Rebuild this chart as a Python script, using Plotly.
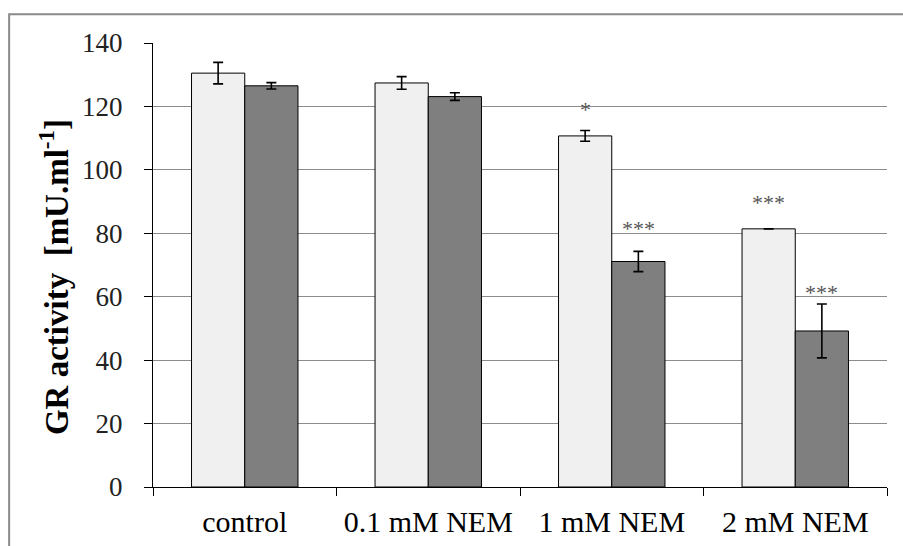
import plotly.graph_objects as go

categories = ["control", "0.1 mM NEM", "1 mM NEM", "2 mM NEM"]
light_values = [130.5, 127.4, 110.7, 81.4]
light_err = [3.4, 2.0, 1.7, None]  # no error bar shown for 2 mM NEM
dark_values = [126.5, 123.1, 71.1, 49.2]
dark_err = [1.0, 1.2, 3.2, 8.5]

# significance markers: (category index, series, label, label height)
sig_cat = [2, 2, 3, 3]
sig_series = ["light", "dark", "light", "dark"]
sig_text = ["*", "***", "***", "***"]
sig_y = [120.5, 83.0, 91.2, 62.8]

y_ticks = [0, 20, 40, 60, 80, 100, 120, 140]

FONT = "Liberation Serif, Times New Roman, serif"
BARGAP = 0.42

fig = go.Figure()
fig.add_trace(go.Bar(
    x=categories, y=light_values, name="light",
    marker=dict(color="#f0f0f0", line=dict(color="black", width=1)),
    error_y=dict(type="data", array=light_err, color="black", thickness=1.6, width=5),
))
fig.add_trace(go.Bar(
    x=categories, y=dark_values, name="dark",
    marker=dict(color="#7f7f7f", line=dict(color="black", width=1)),
    error_y=dict(type="data", array=dark_err, color="black", thickness=1.6, width=5),
))

offset = (1 - BARGAP) / 4
annotations = []
for c, s, t, yv in zip(sig_cat, sig_series, sig_text, sig_y):
    xv = c - offset if s == "light" else c + offset
    annotations.append(dict(
        x=xv, y=yv, xref="x", yref="y", text=t, showarrow=False,
        font=dict(family=FONT, size=22, color="#555555"),
        xanchor="center", yanchor="middle", yshift=-5,
    ))

annotations.append(dict(
    x=-0.134, y=0.472, xref="paper", yref="paper",
    text="<b>GR activity  [mU.ml<sup>-1</sup>]</b>", textangle=-90, showarrow=False,
    font=dict(family=FONT, size=33, color="black"),
    xanchor="center", yanchor="middle",
))

fig.update_layout(
    width=903, height=546,
    margin=dict(l=153, r=16, t=43, b=59, autoexpand=False),
    paper_bgcolor="white", plot_bgcolor="white",
    barmode="group", bargap=BARGAP, bargroupgap=0,
    showlegend=False,
    font=dict(family=FONT, color="black"),
    annotations=annotations,
    shapes=[dict(type="rect", xref="paper", yref="paper",
                 x0=-0.196, x1=1.2, y0=-0.5, y1=1.065,
                 line=dict(color="#8a8a8a", width=2), fillcolor="rgba(0,0,0,0)",
                 layer="below")],
)
fig.update_yaxes(
    range=[0, 140], tickvals=y_ticks, ticktext=[str(v) for v in y_ticks],
    automargin=False,
    showgrid=True, gridcolor="#8c8c8c", gridwidth=1, zeroline=False,
    showline=True, linecolor="black", linewidth=1,
    ticks="outside", ticklen=8, tickcolor="black", tickwidth=1,
    tickfont=dict(family=FONT, size=27, color="#222222"),
    ticklabelstandoff=16,
)
fig.update_xaxes(
    type="category", automargin=False, showgrid=False, zeroline=False,
    showline=True, linecolor="black", linewidth=1,
    ticks="outside", ticklen=8, tickcolor="black", tickwidth=1, tickson="boundaries",
    tickfont=dict(family=FONT, size=30, color="black"),
    ticklabelstandoff=8,
)

fig.write_html("out.html", config={"displayModeBar": False},
               post_script="document.body.style.margin='0';")
